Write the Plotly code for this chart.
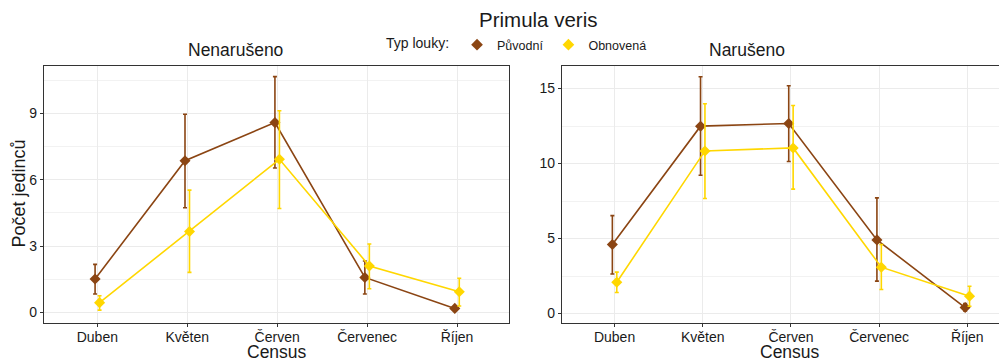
import plotly.graph_objects as go

# ---------------- data ----------------
months = ["Duben", "Květen", "Červen", "Červenec", "Říjen"]

# Nenarušeno (left panel)
nen_puv_mean = [1.51, 6.86, 8.58, 1.58, 0.18]
nen_puv_low = [0.83, 4.73, 6.53, 0.83, 0.10]
nen_puv_high = [2.17, 8.96, 10.66, 2.32, 0.26]
nen_obn_mean = [0.44, 3.66, 6.92, 2.10, 0.93]
nen_obn_low = [0.10, 1.81, 4.70, 1.07, 0.29]
nen_obn_high = [0.75, 5.53, 9.12, 3.09, 1.54]

# Narušeno (right panel)
nar_puv_mean = [4.60, 12.49, 12.67, 4.91, 0.40]
nar_puv_low = [2.64, 9.22, 10.13, 2.16, 0.18]
nar_puv_high = [6.53, 15.78, 15.18, 7.71, 0.67]
nar_obn_mean = [2.09, 10.84, 11.04, 3.09, 1.16]
nar_obn_low = [1.40, 7.67, 8.29, 1.60, 0.49]
nar_obn_high = [2.76, 13.98, 13.87, 4.60, 1.82]

groups = ["Původní", "Obnovená"]
colors = {"Původní": "#8B4513", "Obnovená": "#FFD700"}
dodge = {"Původní": -0.025, "Obnovená": 0.025}

left_ticks = [0, 3, 6, 9]
right_ticks = [0, 5, 10, 15]

# page has an 8px body margin -> figure is 999x351 drawn at (8, 8)
OFF = 8
W, H = 1007 - OFF, 359 - OFF
FONT = "Liberation Sans, Arial, sans-serif"


def px_x(p):
    return (p - OFF) / W


def px_y(p):
    return 1 - (p - OFF) / H


fig = go.Figure()

panels = [
    ("x", "y", {"Původní": (nen_puv_mean, nen_puv_low, nen_puv_high),
                "Obnovená": (nen_obn_mean, nen_obn_low, nen_obn_high)}),
    ("x2", "y2", {"Původní": (nar_puv_mean, nar_puv_low, nar_puv_high),
                  "Obnovená": (nar_obn_mean, nar_obn_low, nar_obn_high)}),
]

for xa, ya, data in panels:
    for g in groups:
        mean, low, high = data[g]
        xs = [i + dodge[g] for i in range(len(months))]
        fig.add_trace(go.Scatter(
            x=xs, y=mean, xaxis=xa, yaxis=ya,
            mode="lines+markers", name=g, showlegend=False,
            line=dict(color=colors[g], width=1.6),
            marker=dict(symbol="diamond", size=8.5, color=colors[g]),
            error_y=dict(type="data", symmetric=False,
                         array=[h - m for h, m in zip(high, mean)],
                         arrayminus=[m - l for m, l in zip(mean, low)],
                         color=colors[g], thickness=1.6, width=2),
        ))

# legend entries (marker glyph only, like the reference key)
for g in groups:
    fig.add_trace(go.Scatter(
        x=[None], y=[None], xaxis="x", yaxis="y", mode="markers", name=g,
        marker=dict(symbol="diamond", size=9, color=colors[g]),
        showlegend=True,
    ))

grid = "#EBEBEB"
axis_common = dict(
    showgrid=True, gridcolor=grid, gridwidth=1, zeroline=False,
    tickfont=dict(family=FONT, size=14, color="#1a1a1a"),
    ticks="outside", ticklen=3, tickcolor="#333333",
    linecolor="#333333", linewidth=1.2, showline=True,
)

fig.update_layout(
    width=W, height=H,
    margin=dict(l=0, r=0, t=0, b=0),
    paper_bgcolor="white", plot_bgcolor="white",
    showlegend=True,
    xaxis=dict(**axis_common, domain=[px_x(44), px_x(509)], range=[-0.593, 4.578],
               tickmode="array", tickvals=list(range(len(months))), ticktext=months,
               mirror=True, anchor="y", ticklabelstandoff=-2),
    yaxis=dict(**axis_common, domain=[px_y(323), px_y(66)], range=[-0.48, 11.14],
               tickmode="array", tickvals=left_ticks, mirror=True, anchor="x",
               minor=dict(dtick=1.5, tick0=0, showgrid=True, gridcolor="#F2F2F2",
                          gridwidth=0.8, ticks="")),
    xaxis2=dict(**axis_common, domain=[px_x(562), 1.0], range=[-0.596, 4.45],
                tickmode="array", tickvals=list(range(len(months))), ticktext=months,
                mirror=True, anchor="y2", ticklabelstandoff=-2),
    yaxis2=dict(**axis_common, domain=[px_y(323), px_y(66)], range=[-0.63, 16.5],
                tickmode="array", tickvals=right_ticks, mirror=False, anchor="x2",
                minor=dict(dtick=2.5, tick0=0, showgrid=True, gridcolor="#F2F2F2",
                           gridwidth=0.8, ticks="")),
    legend=dict(orientation="h", x=px_x(384), y=px_y(45), xanchor="left",
                yanchor="middle", bgcolor="rgba(0,0,0,0)",
                font=dict(family=FONT, size=12.5, color="#1a1a1a"),
                title=dict(text="Typ louky:", side="left",
                           font=dict(family=FONT, size=14, color="#1a1a1a")),
                itemwidth=30, tracegroupgap=0),
)

annotations = [
    dict(text="Primula veris", x=px_x(538), y=px_y(20),
         font=dict(family=FONT, size=20.5, color="#1a1a1a")),
    dict(text="Nenarušeno", x=px_x(235), y=px_y(50),
         font=dict(family=FONT, size=17.5, color="#1a1a1a")),
    dict(text="Narušeno", x=px_x(746.5), y=px_y(50),
         font=dict(family=FONT, size=17.5, color="#1a1a1a")),
    dict(text="Census", x=px_x(277), y=px_y(351.5),
         font=dict(family=FONT, size=17.5, color="#1a1a1a")),
    dict(text="Census", x=px_x(790), y=px_y(351.5),
         font=dict(family=FONT, size=17.5, color="#1a1a1a")),
    dict(text="Počet jedinců", x=px_x(18.5), y=px_y(194), textangle=-90,
         font=dict(family=FONT, size=18, color="#1a1a1a")),
]
for a in annotations:
    a.update(xref="paper", yref="paper", showarrow=False,
             xanchor="center", yanchor="middle")
fig.update_layout(annotations=annotations)

fig.write_html("out.html")
